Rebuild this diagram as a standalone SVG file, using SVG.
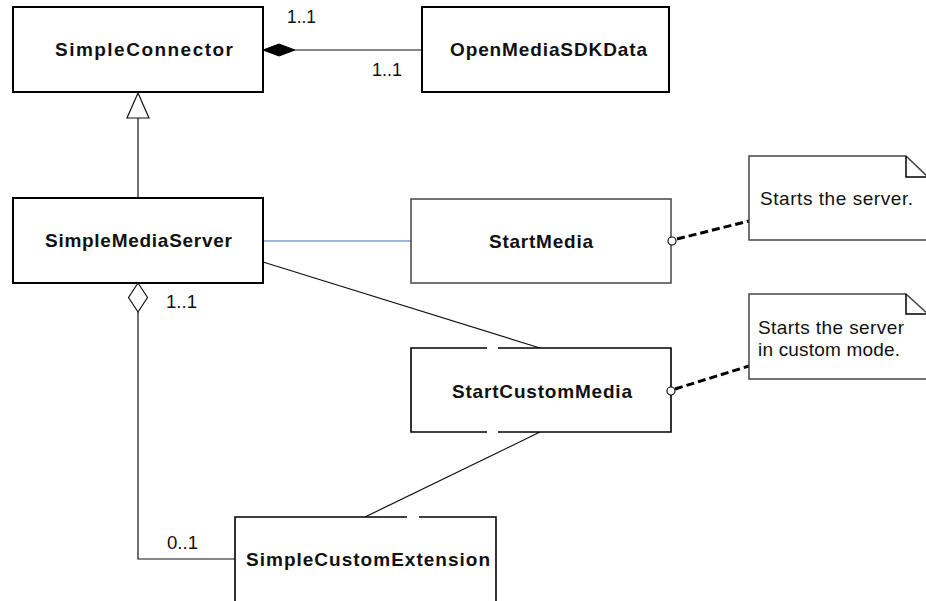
<svg xmlns="http://www.w3.org/2000/svg" width="926" height="601" viewBox="0 0 926 601">
<style>
.bg{fill:#fff}
.box{fill:#fff;stroke:#000;stroke-width:2}
.gbox{fill:#fff;stroke:#444;stroke-width:1.5}
.lbl{font-family:"Liberation Sans",Arial,sans-serif;font-weight:bold;font-size:19px;fill:#111}
.mult{font-family:"Liberation Sans",Arial,sans-serif;font-size:18px;fill:#111}
.note{font-family:"Liberation Sans",Arial,sans-serif;font-size:19px;fill:#111}
.ln{fill:none;stroke:#111;stroke-width:1.2}
.dash{fill:none;stroke:#000;stroke-width:3;stroke-dasharray:8 4}
.fold{fill:none;stroke:#000;stroke-width:1.5}
.port{fill:#fff;stroke:#111;stroke-width:1.2}
</style>
<rect class="bg" x="0" y="0" width="926" height="601"/>
<g id="connectors">
<path class="ln" d="M295,50 H422"/>
<path class="ln" d="M138,118 V198"/>
<path class="ln" d="M263,241 H411" style="stroke:#7f9ccc;stroke-width:1.4"/>
<path class="ln" d="M263,262 L540,348"/>
<path class="ln" d="M540,432 L365,517"/>
<path class="ln" d="M138,312 V559 H235"/>
<path class="dash" d="M677,239 L749,221"/>
<path class="dash" d="M675,389 L749,366"/>
<polygon points="263,50 279,44 295,50 279,56" fill="#000" stroke="#000" stroke-width="1"/>
<polygon points="138,93 149,118 127,118" fill="#fff" stroke="#111" stroke-width="1.2"/>
<polygon points="138,283 147.5,297.5 138,312 128.5,297.5" fill="#fff" stroke="#111" stroke-width="1.2"/>
<text class="mult" x="287" y="23" textLength="29" lengthAdjust="spacingAndGlyphs">1..1</text>
<text class="mult" x="372" y="76" textLength="30" lengthAdjust="spacingAndGlyphs">1..1</text>
<text class="mult" x="166" y="308" textLength="31" lengthAdjust="spacingAndGlyphs">1..1</text>
<text class="mult" x="167" y="549" textLength="31" lengthAdjust="spacingAndGlyphs">0..1</text>
</g>
<g id="SimpleConnector">
<rect class="box" x="13" y="7" width="250" height="85"/>
<text class="lbl" x="55" y="56" textLength="178" lengthAdjust="spacing">SimpleConnector</text>
</g>
<g id="OpenMediaSDKData">
<rect class="box" x="422" y="7" width="247" height="85"/>
<text class="lbl" x="450" y="56" textLength="197" lengthAdjust="spacing">OpenMediaSDKData</text>
</g>
<g id="SimpleMediaServer">
<rect class="box" x="13" y="198" width="250" height="85"/>
<text class="lbl" x="45" y="247" textLength="187" lengthAdjust="spacing">SimpleMediaServer</text>
</g>
<g id="StartMedia">
<rect class="gbox" x="411" y="199" width="260" height="84"/>
<text class="lbl" x="489" y="248" textLength="104" lengthAdjust="spacing">StartMedia</text>
<circle class="port" cx="672" cy="241" r="4"/>
</g>
<g id="StartCustomMedia">
<rect x="411" y="348" width="260" height="84" fill="#fff"/>
<path d="M487,348 H411 V432 H487 M498,432 H671 V348 H498" fill="none" stroke="#000" stroke-width="1.6"/>
<text class="lbl" x="452" y="398" textLength="180" lengthAdjust="spacing">StartCustomMedia</text>
<circle class="port" cx="671" cy="391" r="4"/>
</g>
<g id="SimpleCustomExtension">
<rect x="235" y="517" width="261" height="90" fill="#fff"/>
<path d="M407,517 H235 V606 M419,517 H496 V606" fill="none" stroke="#000" stroke-width="1.6"/>
<text class="lbl" x="246" y="566" textLength="244" lengthAdjust="spacing">SimpleCustomExtension</text>
</g>
<g id="note1">
<path d="M749,156 H906 L928,177 V240 H749 Z" class="gbox"/>
<path class="fold" d="M906,156 V177 H928"/>
<text class="note" x="760" y="205" textLength="153" lengthAdjust="spacing">Starts the server.</text>
</g>
<g id="note2">
<path d="M749,294 H906 L928,314 V379 H749 Z" class="gbox"/>
<path class="fold" d="M906,294 V314 H928"/>
<text class="note" x="758" y="334" textLength="146" lengthAdjust="spacing">Starts the server</text>
<text class="note" x="758" y="356" textLength="142" lengthAdjust="spacing">in custom mode.</text>
</g>
</svg>
